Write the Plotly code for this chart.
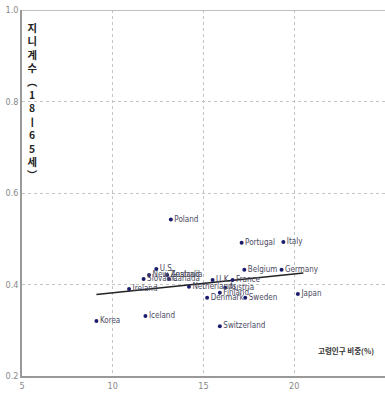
import plotly.graph_objects as go

# Share of population aged 65+ (%) vs. working-age Gini coefficient
countries = ["Korea", "Iceland", "Ireland", "Slovakia", "New Zealand", "U.S.",
             "Australia", "Canada", "Poland", "Netherlands", "U.K.", "Denmark",
             "Finland", "Austria", "France", "Switzerland", "Portugal", "Belgium",
             "Sweden", "Germany", "Italy", "Japan"]
aged_share = [9.1, 11.8, 10.9, 11.7, 12.0, 12.4,
              13.0, 13.1, 13.2, 14.2, 15.5, 15.2,
              15.9, 16.2, 16.6, 15.9, 17.1, 17.25,
              17.3, 19.3, 19.4, 20.2]
gini = [0.320, 0.331, 0.390, 0.412, 0.421, 0.434,
        0.421, 0.412, 0.542, 0.395, 0.410, 0.371,
        0.382, 0.393, 0.410, 0.309, 0.491, 0.432,
        0.371, 0.432, 0.493, 0.379]

# Linear trend line
trend_x = [9.1, 20.5]
trend_y = [0.378, 0.425]

x_ticks = [5, 10, 15, 20, 25]
y_ticks = [0.2, 0.4, 0.6, 0.8, 1.0]
y_tick_text = ["0.2", "0.4", "0.6", "0.8", "1.0"]

# vertical (stacked) axis title characters
y_title_chars = ["지", "니", "계", "수", "︵", "1", "8", "ㅣ", "6", "5", "세", "︶"]
x_title = "고령인구 비중(%)"

label_font = "DejaVu Sans Condensed, Liberation Sans Narrow, Liberation Sans, sans-serif"

fig = go.Figure()
fig.add_trace(go.Scatter(
    x=trend_x, y=trend_y, mode="lines",
    line=dict(color="#222222", width=1.6), hoverinfo="skip", showlegend=False))
fig.add_trace(go.Scatter(
    x=aged_share, y=gini, mode="markers+text",
    text=countries, textposition="middle right",
    textfont=dict(family=label_font, size=8, color="#4a4a5e"),
    marker=dict(color="#1c1c6e", size=4), showlegend=False))

# Top border of the plotting area
fig.add_shape(type="line", xref="paper", yref="y", x0=0, x1=1, y0=1.0, y1=1.0,
              line=dict(color="#aaaaaa", width=1.5))

fig.add_annotation(
    text="<br>".join("<b>" + ch + "</b>" for ch in y_title_chars), xref="paper", yref="paper",
    x=0.03, y=0.978, xanchor="center", yanchor="top", showarrow=False,
    font=dict(family="Noto Sans CJK KR", size=10.3, color="#222222"))
fig.add_annotation(
    text="<b>" + x_title + "</b>", xref="paper", yref="paper",
    x=0.975, y=0.07, xanchor="right", yanchor="middle", showarrow=False,
    font=dict(family="Noto Sans CJK KR", size=7.5, color="#333333"))

fig.update_layout(
    width=385, height=397,
    margin=dict(l=22, r=0, t=10, b=21),
    paper_bgcolor="white", plot_bgcolor="white",
    font=dict(family=label_font, size=9, color="#888888"),
    xaxis=dict(range=[5, 25], tickvals=x_ticks, ticktext=[str(v) for v in x_ticks],
               showgrid=True, gridcolor="#c4c4c4", griddash="dot", gridwidth=1,
               showline=True, linecolor="#999999", linewidth=2,
               zeroline=False, ticks="", tickfont=dict(size=9, color="#888888")),
    yaxis=dict(range=[0.2, 1.0], tickvals=y_ticks, ticktext=y_tick_text,
               showgrid=True, gridcolor="#c4c4c4", griddash="dot", gridwidth=1,
               showline=True, linecolor="#999999", linewidth=1.5,
               zeroline=False, ticks="", tickfont=dict(size=9, color="#888888")),
)

fig.write_html("out.html")
